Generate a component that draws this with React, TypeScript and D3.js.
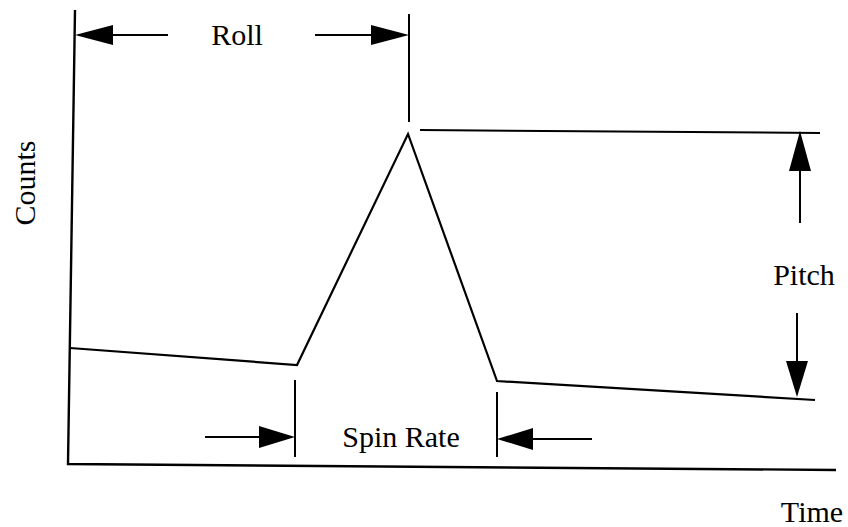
import React from "react";
import * as d3 from "d3";

// Abstract units: time (horizontal) and counts (vertical)
const signalTime = [2, 229, 340, 429, 747];
const signalCounts = [117, 100, 331, 84, 65];
const plateauTime = [352, 752];
const plateauCounts = [335, 332];
const axisTime = [7, 0, 768];
const axisCounts = [455, 1, -5];

const labels = ["Roll", "Spin Rate", "Pitch", "Counts", "Time"];

const W = 848;
const H = 527;

const x = d3.scaleLinear().domain([0, 770]).range([68, 838]);
const y = d3.scaleLinear().domain([0, 455]).range([465, 10]);

function Arrow({ x1, y1, x2, y2, head = 36, half = 10 }: any) {
  const dx = x2 - x1, dy = y2 - y1;
  const len = Math.hypot(dx, dy);
  const ux = dx / len, uy = dy / len;
  const bx = x2 - ux * head, by = y2 - uy * head;
  const px = -uy * half, py = ux * half;
  return (
    <g>
      <line x1={x1} y1={y1} x2={bx} y2={by} stroke="#000" strokeWidth={2} />
      <polygon points={`${x2},${y2} ${bx + px},${by + py} ${bx - px},${by - py}`} fill="#000" />
    </g>
  );
}

export default function App() {
  const line = d3.line<number>().x((_, i) => x(signalTime[i])).y((d) => y(d));
  const axisPath = d3.line<number>().x((_, i) => x(axisTime[i])).y((d) => y(d));
  const plateau = d3.line<number>().x((_, i) => x(plateauTime[i])).y((d) => y(d));

  const font = "'Liberation Serif', 'Times New Roman', serif";
  const fs = 30;

  return (
    <svg width={W} height={H} style={{ position: "absolute", left: 0, top: 0, background: "#fff" }}>
      <rect width={W} height={H} fill="#fff" />
      <path d={axisPath(axisCounts) || ""} fill="none" stroke="#000" strokeWidth={2.4} />
      <path d={line(signalCounts) || ""} fill="none" stroke="#000" strokeWidth={2.2} />
      <path d={plateau(plateauCounts) || ""} fill="none" stroke="#000" strokeWidth={2} />

      {/* Roll */}
      <line x1={x(341)} y1={y(451)} x2={x(341)} y2={y(343)} stroke="#000" strokeWidth={2} />
      <Arrow x1={x(100)} y1={y(430)} x2={x(7)} y2={y(430)} head={38} half={10} />
      <Arrow x1={x(247)} y1={y(430)} x2={x(341)} y2={y(430)} head={38} half={10} />
      <text x={x(169)} y={y(420)} fontFamily={font} fontSize={fs} textAnchor="middle">{labels[0]}</text>

      {/* Spin rate */}
      <line x1={x(227)} y1={y(85)} x2={x(227)} y2={y(8)} stroke="#000" strokeWidth={2} />
      <line x1={x(429)} y1={y(73)} x2={x(429)} y2={y(8)} stroke="#000" strokeWidth={2} />
      <Arrow x1={x(137)} y1={y(28)} x2={x(227)} y2={y(28)} head={36} half={11} />
      <Arrow x1={x(524)} y1={y(26)} x2={x(429)} y2={y(26)} head={36} half={11} />
      <text x={x(333)} y={y(18)} fontFamily={font} fontSize={fs} textAnchor="middle">{labels[1]}</text>

      {/* Pitch */}
      <Arrow x1={x(732)} y1={y(242)} x2={x(732)} y2={y(334)} head={40} half={11} />
      <Arrow x1={x(729)} y1={y(152)} x2={x(729)} y2={y(68)} head={36} half={11} />
      <text x={x(736)} y={y(180)} fontFamily={font} fontSize={fs} textAnchor="middle">{labels[2]}</text>

      {/* axis titles */}
      <text transform={`translate(${x(-33)},${y(282)}) rotate(-90)`} fontFamily={font} fontSize={fs} textAnchor="middle">{labels[3]}</text>
      <text x={x(744)} y={y(-57)} fontFamily={font} fontSize={fs} textAnchor="middle">{labels[4]}</text>
    </svg>
  );
}
